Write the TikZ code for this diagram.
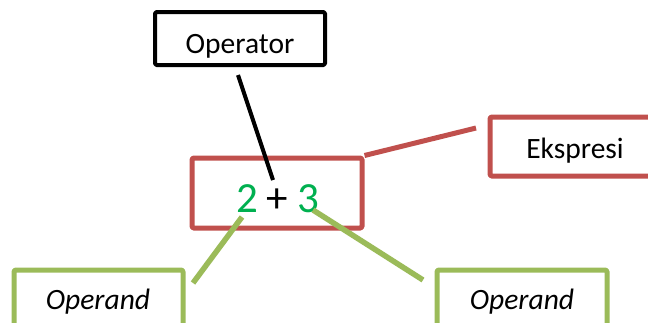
\documentclass[tikz,border=0pt]{standalone}
\usepackage{fontspec}
\setmainfont{Carlito}
\definecolor{exprred}{HTML}{C0504D}
\definecolor{opgreen}{HTML}{9BBB59}
\definecolor{numgreen}{HTML}{00B050}
\begin{document}
\begin{tikzpicture}[x=1pt,y=-1pt,
  frame/.style={rectangle, inner sep=0pt, rounded corners=1.5pt, line join=round},
  word/.style={anchor=base, inner sep=0pt, font=\fontsize{29.5}{31}\selectfont},
  digit/.style={anchor=base, inner sep=0pt, font=\fontsize{43}{45}\selectfont},
  link/.style={line width=#1, line cap=butt}]
\useasboundingbox (0,0) rectangle (648,322);
\clip (0,0) rectangle (648,322);

% boxes
\node[frame, draw=black, line width=4pt, minimum width=170pt, minimum height=53pt] (opbox) at (240,38.5) {};
\node[frame, draw=exprred, line width=5pt, minimum width=170pt, minimum height=70pt] (exprbox) at (277,193) {};
\node[frame, draw=exprred, line width=5pt, minimum width=170pt, minimum height=59pt] (ekbox) at (575,146.5) {};
\node[frame, draw=opgreen, line width=5pt, minimum width=169pt, minimum height=60pt] (leftbox) at (98.5,300) {};
\node[frame, draw=opgreen, line width=5pt, minimum width=170pt, minimum height=60pt] (rightbox) at (522,300) {};

% labels
\node[word] (optxt) at (240,53) {Operator};
\node[word] (ektxt) at (575,158) {Ekspresi};
\node[word] (lefttxt) at (98,309) {\itshape Operand};
\node[word] (righttxt) at (522,309) {\itshape Operand};

% the expression
\node[digit, text=numgreen] (two) at (247,212) {2};
\node[digit] (plus) at (277,212) {+};
\node[digit, text=numgreen] (three) at (308,212) {3};

% connector end points
\coordinate (opA) at (238,75);
\coordinate (opB) at (273,180);
\coordinate (ekA) at (476,128);
\coordinate (twoA) at (242,217);
\coordinate (twoB) at (193,283);
\coordinate (threeA) at (313,210);
\coordinate (threeB) at (423,280);

% connectors
\draw[link=4pt, black] (opA) -- (opB);
\draw[link=5pt, exprred] (exprbox.north east) -- (ekA);
\draw[link=5.5pt, opgreen] (twoA) -- (twoB);
\draw[link=5.5pt, opgreen] (threeA) -- (threeB);
\end{tikzpicture}
\end{document}
